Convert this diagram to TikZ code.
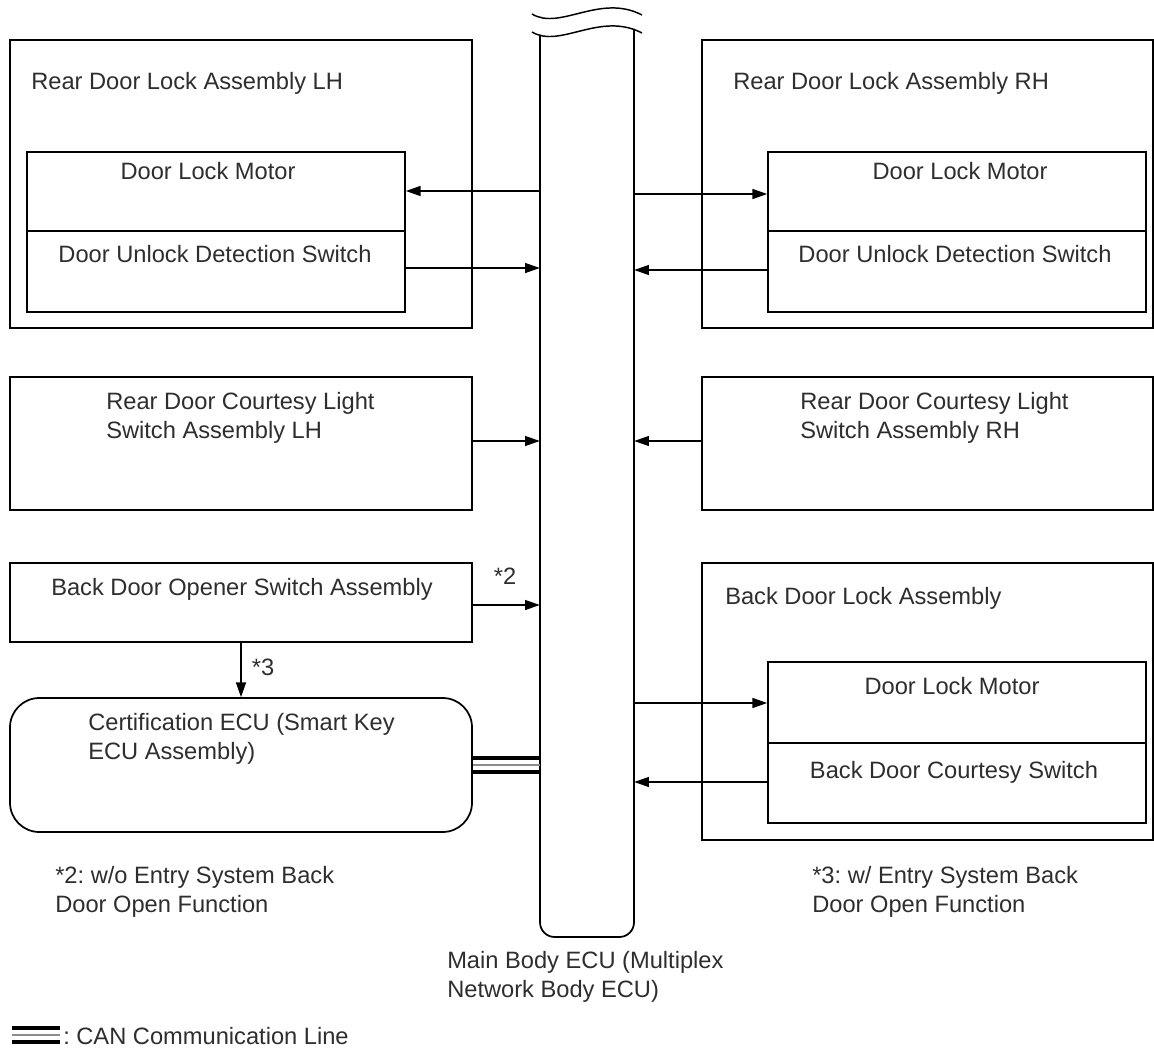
\documentclass[tikz,border=0pt]{standalone}
\usepackage{fontspec}
\setmainfont{Liberation Sans}
\usetikzlibrary{arrows.meta,fit}
\frenchspacing
\begin{document}
\begin{tikzpicture}[x=0.75pt,y=-0.75pt,
  box/.style={draw,line width=1.3pt,inner sep=0pt},
  lbl/.style={font=\fontsize{17.75}{21.75}\selectfont,text=black!82,inner sep=0pt},
  arr/.style={line width=0.9pt,-{Triangle[length=11pt,width=7.5pt]}},
  canline/.style={line width=2.4pt},
  cangap/.style={line width=1.6pt,black!45},
]
\useasboundingbox[fill=white] (0,0) rectangle (1154,1049);

% ---- Main Body ECU bar with break mark ----
\node[inner sep=0pt,fit={(540,32) (634,937)}] (bar) {};
\draw[line width=1.3pt,rounded corners=11pt] (540,35) -- (540,937) -- (634,937) -- (634,29);
\draw[line width=1.1pt] (532,14) .. controls (560,31) and (600,-7) .. (642,15);
\draw[line width=1.1pt] (532,32) .. controls (560,49) and (600,11) .. (642,33);

% ---- Rear door lock LH ----
\node[box,fit={(10,40) (472,328)}] (lhOuter) {};
\node[box,fit={(27,152) (405,231)}] (lhMotor) {};
\node[box,fit={(27,231) (405,312)}] (lhSw) {};
\node[lbl,anchor=base west] (lhTitle) at (31,90) {Rear Door Lock Assembly LH};
\node[lbl,anchor=base] (lhMotorT) at (208,180) {Door Lock Motor};
\node[lbl,anchor=base] (lhSwT) at (215,262) {Door Unlock Detection Switch};

% ---- Rear door lock RH ----
\node[box,fit={(702,40) (1153,328)}] (rhOuter) {};
\node[box,fit={(768,152) (1146,231)}] (rhMotor) {};
\node[box,fit={(768,231) (1146,312)}] (rhSw) {};
\node[lbl,anchor=base west] (rhTitle) at (733,90) {Rear Door Lock Assembly RH};
\node[lbl,anchor=base] (rhMotorT) at (960,180) {Door Lock Motor};
\node[lbl,anchor=base] (rhSwT) at (955,262) {Door Unlock Detection Switch};

% ---- Courtesy light switches ----
\node[box,fit={(10,377) (472,510)}] (lhCourt) {};
\node[lbl,anchor=north west,align=left] (lhCourtT) at (106,392) {Rear Door Courtesy Light\\Switch Assembly LH};
\node[box,fit={(702,377) (1153,510)}] (rhCourt) {};
\node[lbl,anchor=north west,align=left] (rhCourtT) at (800,392) {Rear Door Courtesy Light\\Switch Assembly RH};

% ---- Back door opener switch and certification ECU ----
\node[box,fit={(10,563) (472,642)}] (opener) {};
\node[lbl,anchor=base] (openerT) at (242,595) {Back Door Opener Switch Assembly};
\node[box,rounded corners=22pt,fit={(10,698) (472,832)}] (cert) {};
\node[lbl,anchor=north west,align=left] (certT) at (88,713) {Certification ECU (Smart Key\\ECU Assembly)};

% ---- Back door lock assembly ----
\node[box,fit={(702,563) (1153,840)}] (bdOuter) {};
\node[box,fit={(768,662) (1146,743)}] (bdMotor) {};
\node[box,fit={(768,743) (1146,823)}] (bdSw) {};
\node[lbl,anchor=base west] (bdTitle) at (725,604) {Back Door Lock Assembly};
\node[lbl,anchor=base] (bdMotorT) at (952,694) {Door Lock Motor};
\node[lbl,anchor=base] (bdSwT) at (954,778) {Back Door Courtesy Switch};

% ---- Signal arrows ----
\draw[arr] (bar.west |- 0,191) -- (lhMotor.east |- 0,191);
\draw[arr] (lhSw.east |- 0,268) -- (bar.west |- 0,268);
\draw[arr] (bar.east |- 0,194) -- (rhMotor.west |- 0,194);
\draw[arr] (rhSw.west |- 0,270) -- (bar.east |- 0,270);
\draw[arr] (lhCourt.east |- 0,441) -- (bar.west |- 0,441);
\draw[arr] (rhCourt.west |- 0,441) -- (bar.east |- 0,441);
\draw[arr] (opener.east |- 0,605) -- (bar.west |- 0,605);
\node[lbl,anchor=base] (star2) at (505,584) {*2};
\draw[arr] (opener.south -| 241,0) -- (cert.north -| 241,0);
\node[lbl,anchor=base] (star3) at (263,675) {*3};
\draw[arr] (bar.east |- 0,703) -- (bdMotor.west |- 0,703);
\draw[arr] (bdSw.west |- 0,782) -- (bar.east |- 0,782);

% ---- CAN communication line ----
\draw[canline] (cert.east |- 0,758) -- (bar.west |- 0,758);
\draw[cangap] (cert.east |- 0,765) -- (bar.west |- 0,765);
\draw[canline] (cert.east |- 0,772) -- (bar.west |- 0,772);

% ---- Notes ----
\node[lbl,anchor=north west,align=left] (note2) at (55,866) {*2: w/o Entry System Back\\Door Open Function};
\node[lbl,anchor=north west,align=left] (note3) at (812,866) {*3: w/ Entry System Back\\Door Open Function};
\node[lbl,anchor=north west,align=left] (barT) at (447,951) {Main Body ECU (Multiplex\\Network Body ECU)};

% ---- Legend ----
\coordinate (legA) at (12,0);
\coordinate (legB) at (60,0);
\draw[canline] (legA |- 0,1028) -- (legB |- 0,1028);
\draw[cangap] (legA |- 0,1035) -- (legB |- 0,1035);
\draw[canline] (legA |- 0,1042) -- (legB |- 0,1042);
\node[lbl,anchor=base west] (legT) at (63,1044) {: CAN Communication Line};
\end{tikzpicture}
\end{document}
